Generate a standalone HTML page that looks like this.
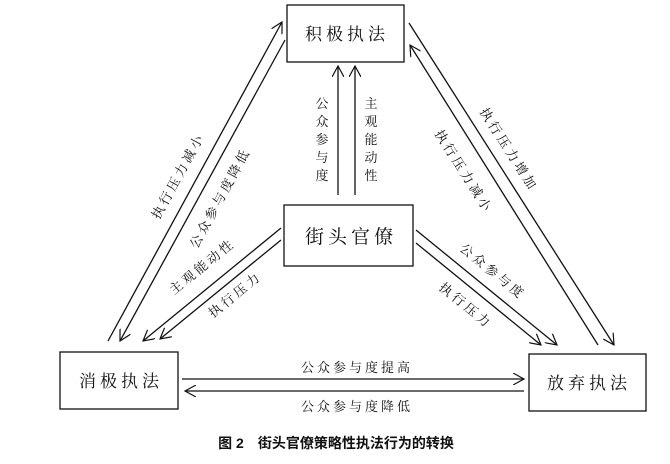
<!DOCTYPE html>
<html><head><meta charset="utf-8"><style>
body{margin:0;background:#fff;}
svg{display:block}
text{font-family:"Noto Serif CJK SC","Noto Sans CJK SC",serif;fill:#111}
</style></head><body>
<svg width="670" height="464" viewBox="0 0 670 464" xmlns="http://www.w3.org/2000/svg">
<defs>
<marker id="a" viewBox="0 0 12 12" refX="11" refY="6" markerWidth="12" markerHeight="12" markerUnits="userSpaceOnUse" orient="auto">
<path d="M0,0 L11,6 L0,12" fill="none" stroke="#111" stroke-width="1.2"/>
</marker>
</defs>
<g stroke="#111" stroke-width="1.3" fill="none">
<rect x="287" y="5" width="117" height="57"/>
<rect x="284" y="205" width="129" height="61"/>
<rect x="60" y="352" width="118" height="57"/>
<rect x="529" y="354" width="117" height="57"/>
<line x1="338" y1="195" x2="338" y2="66" marker-end="url(#a)"/>
<line x1="355" y1="195" x2="355" y2="66" marker-end="url(#a)"/>
<line x1="108" y1="341" x2="282" y2="22" marker-end="url(#a)"/>
<line x1="285" y1="40" x2="120" y2="341" marker-end="url(#a)"/>
<line x1="281" y1="228" x2="143" y2="341" marker-end="url(#a)"/>
<line x1="281" y1="240" x2="160" y2="339" marker-end="url(#a)"/>
<line x1="409" y1="23" x2="614" y2="345" marker-end="url(#a)"/>
<line x1="598" y1="345" x2="410" y2="45" marker-end="url(#a)"/>
<line x1="416" y1="230" x2="557" y2="345" marker-end="url(#a)"/>
<line x1="416" y1="243" x2="541" y2="345" marker-end="url(#a)"/>
<line x1="182" y1="379" x2="524" y2="379" marker-end="url(#a)"/>
<line x1="524" y1="391" x2="185" y2="391" marker-end="url(#a)"/>
</g>
<g font-size="17" text-anchor="middle" letter-spacing="4">
<text x="347" y="40">积极执法</text>
<text x="351" y="243" font-size="19">街头官僚</text>
<text x="121" y="387">消极执法</text>
<text x="589" y="389">放弃执法</text>
</g>
<g font-size="13" text-anchor="middle">
<text x="322" y="108">公</text><text x="322" y="126">众</text><text x="322" y="144">参</text><text x="322" y="162">与</text><text x="322" y="180">度</text>
<text x="371" y="108">主</text><text x="371" y="126">观</text><text x="371" y="144">能</text><text x="371" y="162">动</text><text x="371" y="180">性</text>
</g>
<g font-size="13" text-anchor="middle" letter-spacing="3">
<text transform="translate(182,178) rotate(-61.5)">执行压力减小</text>
<text transform="translate(224,200) rotate(-61.5)">公众参与度降低</text>
<text transform="translate(205,270) rotate(-39)">主观能动性</text>
<text transform="translate(238,298) rotate(-39)">执行压力</text>
<text transform="translate(505,152) rotate(57.5)">执行压力增加</text>
<text transform="translate(460,174) rotate(57.5)">执行压力减小</text>
<text transform="translate(490,275) rotate(39)">公众参与度</text>
<text transform="translate(463,309) rotate(39)">执行压力</text>
<text x="357" y="372">公众参与度提高</text>
<text x="357" y="411">公众参与度降低</text>
</g>
<text x="336" y="448" font-size="14" font-weight="bold" text-anchor="middle" style="font-family:'Liberation Sans','Noto Sans CJK SC',sans-serif">图 2　街头官僚策略性执法行为的转换</text>
</svg>
</body></html>
